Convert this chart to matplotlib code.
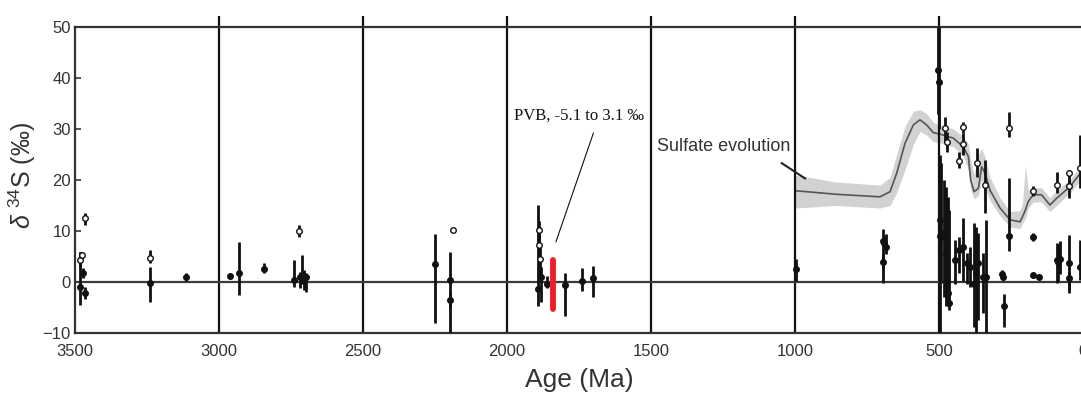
import numpy as np
import matplotlib
matplotlib.use("Agg")
import matplotlib.pyplot as plt

plt.rcParams['font.family'] = ['Liberation Sans', 'DejaVu Sans']
plt.rcParams['mathtext.fontset'] = 'custom'
plt.rcParams['mathtext.rm'] = 'Liberation Sans'
plt.rcParams['mathtext.it'] = 'Liberation Sans:italic'

# ---- data: sample ages (Ma), d34S value, error range low/high, hollow marker flag
age = [3483, 3484, 3474, 3472, 3465, 3465, 3240, 3238, 3115, 2962, 2930, 2843,
       2738, 2722, 2720, 2712, 2705, 2698,
       2249, 2198, 2198, 2189, 1891, 1890, 1888, 1885, 1883, 1862, 1799, 1741, 1703,
       997, 693, 693, 685, 690,
       502, 501, 498, 497, 494, 483, 475, 469, 464, 444, 430, 416, 404, 392, 378,
       371, 363, 348, 337,
       479, 473, 416, 416, 431, 367, 340, 257, 257, 173, 173, 173, 152, 277, 280,
       274, 92, 49, 49, 10, 92, 81, 86, 49, 49, 10]
d34s = [-1.0, 4.3, 5.3, 1.7, -2.2, 12.5, 4.7, -0.2, 1.0, 1.2, 1.7, 2.5,
        0.4, 10.0, 1.0, 1.4, 1.2, 1.0,
        3.5, 0.3, -3.5, 10.2, -1.4, 10.2, 7.3, 4.6, 1.0, -0.3, -0.6, 0.2, 0.7,
        2.5, 8.1, 4.0, 6.8, 7.7,
        41.6, 39.3, 9.0, 12.2, 8.9, 9.6, 5.6, -2.2, -4.2, 4.3, 6.3, 6.9, 3.7, 3.0, -0.3,
        1.7, 3.7, 1.0, 1.0,
        30.1, 27.5, 30.3, 27.1, 23.8, 23.4, 19.0, 30.1, 9.0, 17.9, 8.9, 1.3, 1.0, 1.0, 1.5,
        -4.8, 19.0, 21.3, 18.8, 22.3, 4.3, 4.5, 4.0, 3.7, 0.8, 3.0]
err_lo = [-4.5, 3.0, 4.6, 0.8, -3.4, 11.2, 3.7, -3.9, 0.1, 0.6, -2.5, 1.8,
          -0.9, 8.8, -1.2, -0.3, -1.6, -2.0,
          -8.1, -10.0, -5.0, 9.8, -4.8, 8.0, 4.0, 1.5, -4.0, -1.2, -6.7, -1.7, -2.9,
          0.1, -0.1, 2.5, 5.5, 6.5,
          33.0, 30.0, -10.0, 2.0, -0.2, -2.9, -4.8, -4.8, -5.5, -0.3, 1.7, 0.1, -0.3, -0.9, -8.8,
          -10.0, -7.5, -6.1, -10.0,
          27.5, 25.5, 29.3, 24.9, 22.3, 20.6, 13.5, 28.4, 6.1, 16.9, 8.1, 0.8, 0.5, 0.3, 0.5,
          -8.8, 17.4, 19.5, 16.4, 18.4, -0.1, 1.5, 0.0, -2.2, -1.5, 0.4]
err_hi = [5.9, 5.9, 5.9, 2.7, -0.9, 13.5, 6.3, 3.0, 1.7, 1.8, 7.9, 3.7,
          4.3, 11.2, 2.0, 5.3, 2.4, 1.8,
          9.5, 5.8, -2.0, 10.6, 15.1, 12.0, 9.5, 7.5, 3.0, 1.2, 1.8, 2.7, 3.2,
          4.6, 10.3, 5.5, 9.5, 9.0,
          50.0, 50.0, 20.0, 25.0, 23.3, 20.0, 18.7, 16.7, 14.1, 8.2, 8.9, 12.5, 5.6, 6.9, 11.5,
          10.8, 9.6, 5.7, 12.2,
          32.4, 29.5, 31.3, 29.2, 25.5, 26.2, 23.9, 33.4, 20.3, 18.8, 9.7, 1.8, 1.5, 1.9, 2.4,
          -2.4, 21.6, 22.0, 20.0, 28.8, 7.6, 8.0, 7.5, 9.2, 2.0, 8.2]
hollow = [0, 1, 1, 0, 0, 1, 1, 0, 0, 0, 0, 0,
          0, 1, 0, 0, 0, 0,
          0, 0, 0, 1, 0, 1, 1, 1, 0, 0, 0, 0, 0,
          0, 0, 0, 0, 0,
          0, 0, 0, 0, 0, 0, 0, 0, 0, 0, 0, 0, 0, 0, 0,
          0, 0, 0, 0,
          1, 1, 1, 1, 1, 1, 1, 1, 0, 1, 0, 0, 0, 0, 0,
          0, 1, 1, 1, 1, 0, 0, 0, 0, 0, 0]

# PVB range (red bar)
pvb_age = 1839
pvb_lo, pvb_hi = -5.3, 4.3

# Sulfate evolution curve and its uncertainty band
sulf_age = [1000, 856, 705, 670, 647, 618, 589, 566, 543, 520, 497, 450, 416, 398,
            390, 378, 363, 352, 340, 323, 288, 253, 219, 210, 200, 190, 173, 144, 115,
            92, 45, 0]
sulf_val = [17.9, 17.2, 16.7, 17.7, 21.3, 27.2, 30.8, 31.8, 30.8, 29.3, 29.0, 28.2, 26.5,
            24.6, 20.0, 17.7, 18.4, 22.6, 21.3, 18.0, 14.5, 12.2, 11.8, 12.8, 14.1, 15.8,
            17.1, 17.1, 15.1, 16.4, 18.7, 22.0]
sulf_lo = [14.5, 15.0, 14.5, 15.0, 17.5, 22.0, 27.0, 29.5, 28.8, 27.5, 27.3, 26.5, 24.8,
           22.0, 18.0, 16.3, 17.0, 20.0, 18.5, 16.0, 13.0, 10.8, 10.5, 11.5, 12.5, 14.5,
           15.7, 15.7, 13.8, 15.0, 17.5, 20.5]
sulf_hi = [21.0, 19.6, 19.0, 20.5, 25.0, 30.5, 33.5, 33.8, 33.0, 31.3, 30.8, 30.0, 28.5,
           27.0, 24.0, 21.0, 25.0, 26.2, 24.5, 20.5, 16.5, 13.8, 14.0, 15.5, 23.0, 18.0,
           18.5, 18.5, 16.5, 18.0, 20.0, 23.5]

grid_ages = [3000, 2500, 2000, 1500, 1000, 500]
x_ticks = [3500, 3000, 2500, 2000, 1500, 1000, 500, 0]
y_ticks = [-10, 0, 10, 20, 30, 40, 50]

# ---- figure
fig = plt.figure(figsize=(10.81, 3.94), dpi=100)
ax = fig.add_axes([75 / 1081, 61 / 394, 1008 / 1081, 306 / 394])
ax.set_xlim(3500, 0)
ax.set_ylim(-10, 50)

txt = '#333333'

# band + curve
ax.fill_between(sulf_age, sulf_lo, sulf_hi, color='#d2d2d2', lw=0, zorder=1)
ax.plot(sulf_age, sulf_val, color='#555555', lw=1.2, zorder=2)

# grid lines (extend slightly above axes)
vl = ax.vlines(grid_ages, -10, 52.2, color='#111111', lw=1.6, zorder=2)
vl.set_clip_on(False)
ax.axhline(0, color='#3a3a3a', lw=1.6, zorder=2)

# error bars
ax.vlines(age, err_lo, err_hi, color='#111111', lw=2.0, zorder=3)
age_a = np.array(age)
val_a = np.array(d34s)
h = np.array(hollow, dtype=bool)
ax.plot(age_a[~h], val_a[~h], 'o', ms=4, color='#111111', zorder=4)
ax.plot(age_a[h], val_a[h], 'o', ms=4, mfc='white', mec='#111111', mew=1.0, zorder=4)

# PVB red bar
ax.plot([pvb_age, pvb_age], [pvb_lo, pvb_hi], color='#ee1c25', lw=4.2,
        solid_capstyle='round', zorder=5)

# annotations
ax.text(1750, 32.7, 'PVB, -5.1 to 3.1 \u2030', family=['Liberation Serif', 'DejaVu Serif'],
        fontsize=12, color='#111111', ha='center', va='center')
ax.plot([1700, 1830], [29.2, 7.9], color='#111111', lw=0.8, zorder=5)

ax.text(1480, 26.5, 'Sulfate evolution', fontsize=13, color=txt, ha='left', va='center')
ax.plot([1046, 965], [23.3, 20.3], color='#222222', lw=1.5, zorder=5, clip_on=False)

# axes styling
ax.set_xticks(x_ticks)
ax.set_xticklabels([str(t) for t in x_ticks])
ax.set_yticks(y_ticks)
ax.tick_params(axis='both', direction='in', length=4, width=1.2, color='#333333',
               labelsize=12, labelcolor=txt)
ax.tick_params(axis='x', pad=8)
ax.tick_params(axis='y', pad=3)
for s in ax.spines.values():
    s.set_color('#333333')
    s.set_linewidth(1.6)

ax.set_xlabel('Age (Ma)', fontsize=19, color=txt)
ax.xaxis.set_label_coords(0.5, -0.115)
ax.xaxis.label.set_va('top')
ax.set_ylabel(r'$\delta$ $^{34}$S (\u2030)'.replace('\\u2030', '\u2030'), fontsize=18, color=txt)
ax.yaxis.set_label_coords(-0.037, 0.515)

fig.savefig('out.png', dpi=100)
